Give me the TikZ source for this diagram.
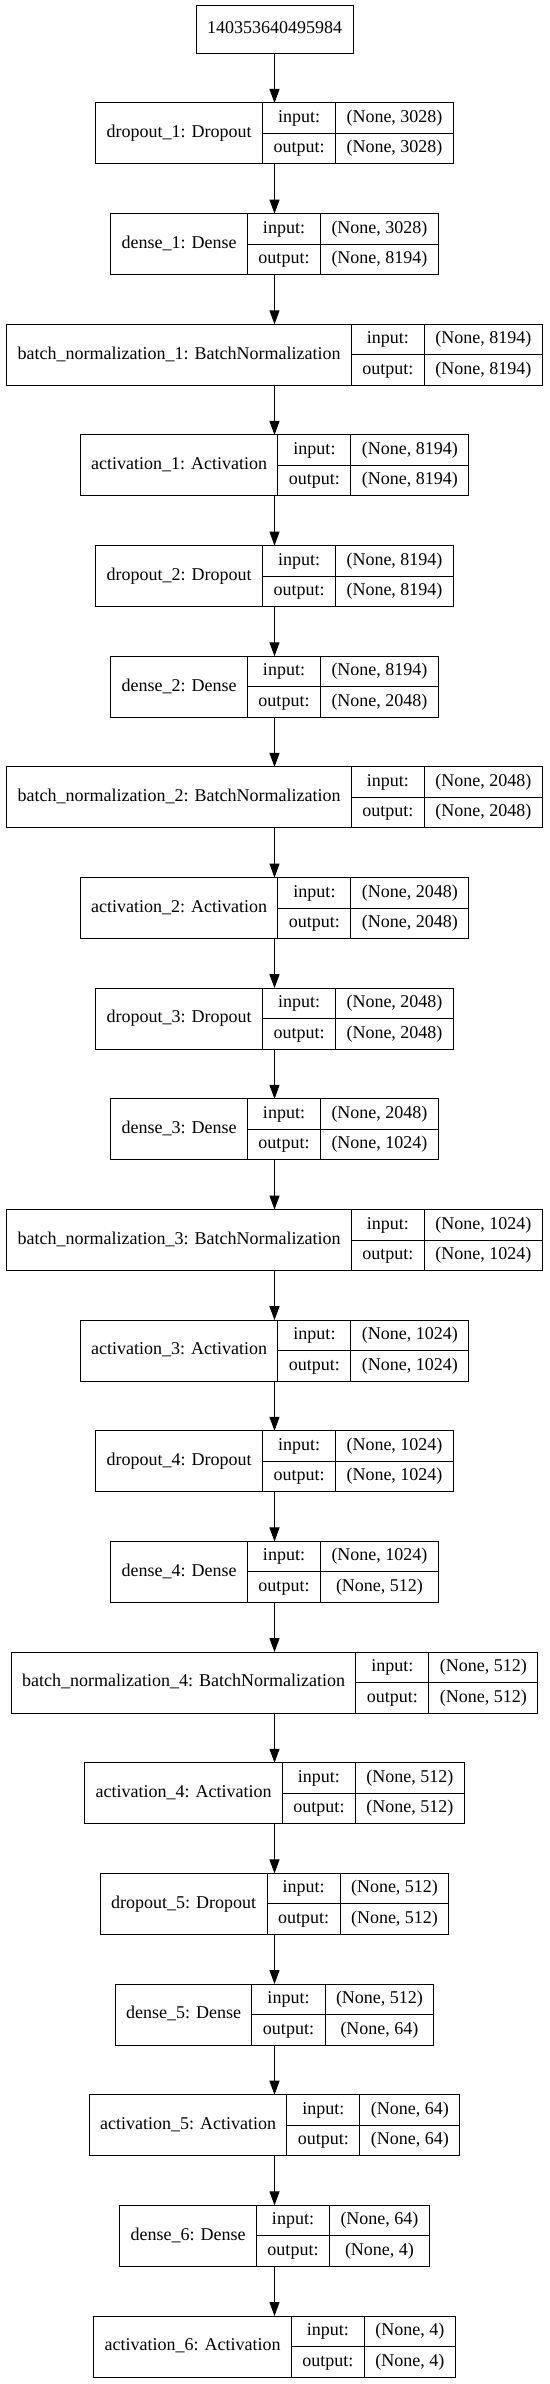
\documentclass[tikz,border=0pt]{standalone}
\usepackage{fontspec}
\setmainfont{Liberation Serif}
\usetikzlibrary{arrows.meta,fit}
\newlength\wA \newlength\wB \newlength\wC \newlength\wT
\newcommand\layerfont{\fontsize{18}{21}\selectfont}
\tikzset{
  cell/.style={draw, line width=1pt, inner sep=0pt, outer sep=0pt, anchor=north west,
    font=\layerfont, text height=12.5pt, text depth=4pt},
  probe/.style={inner sep=0pt, outer sep=0pt, font=\layerfont},
  flow/.style={-{Triangle[length=14pt,width=10pt]}, line width=1pt}
}
\newcommand\drawlayer[5]{%
  \node[probe] (#1m) at (274.5,#2) {%
    \settowidth\wA{#3}\global\wA=\wA
    \settowidth\wB{output:}\global\wB=\wB
    \settowidth\wC{#4}\settowidth\wT{#5}%
    \ifdim\wT>\wC \wC=\wT\fi
    \global\wC=\wC};
  \global\advance\wA by 22pt
  \global\advance\wB by 22pt
  \global\advance\wC by 22pt
  \pgfmathsetmacro\layerx{274.5-0.5*(\wA+\wB+\wC)}%
  \node[cell, minimum width=\wA, minimum height=61pt] (#1n) at (\layerx,#2) {#3};
  \node[cell, minimum width=\wB, minimum height=30.5pt] (#1i) at (#1n.north east) {input:};
  \node[cell, minimum width=\wB, minimum height=30.5pt] (#1o) at (#1i.south west) {output:};
  \node[cell, minimum width=\wC, minimum height=30.5pt] (#1a) at (#1i.north east) {#4};
  \node[cell, minimum width=\wC, minimum height=30.5pt] (#1b) at (#1o.north east) {#5};
  \node[fit=(#1n)(#1b), inner sep=0pt, outer sep=0pt] (#1) {};
}
\begin{document}
\begin{tikzpicture}[x=1pt,y=-1pt]
\useasboundingbox[fill=white] (0,0) rectangle (549,2384);
\node[cell, anchor=north, minimum height=48pt, inner xsep=11pt] (top) at (274.5,5.7) {140353640495984};
\drawlayer{L0}{103}{dropout\_1: Dropout}{(None, 3028)}{(None, 3028)}
\drawlayer{L1}{213.65}{dense\_1: Dense}{(None, 3028)}{(None, 8194)}
\drawlayer{L2}{324.3}{batch\_normalization\_1: BatchNormalization}{(None, 8194)}{(None, 8194)}
\drawlayer{L3}{434.95}{activation\_1: Activation}{(None, 8194)}{(None, 8194)}
\drawlayer{L4}{545.6}{dropout\_2: Dropout}{(None, 8194)}{(None, 8194)}
\drawlayer{L5}{656.25}{dense\_2: Dense}{(None, 8194)}{(None, 2048)}
\drawlayer{L6}{766.9}{batch\_normalization\_2: BatchNormalization}{(None, 2048)}{(None, 2048)}
\drawlayer{L7}{877.55}{activation\_2: Activation}{(None, 2048)}{(None, 2048)}
\drawlayer{L8}{988.2}{dropout\_3: Dropout}{(None, 2048)}{(None, 2048)}
\drawlayer{L9}{1098.85}{dense\_3: Dense}{(None, 2048)}{(None, 1024)}
\drawlayer{L10}{1209.5}{batch\_normalization\_3: BatchNormalization}{(None, 1024)}{(None, 1024)}
\drawlayer{L11}{1320.15}{activation\_3: Activation}{(None, 1024)}{(None, 1024)}
\drawlayer{L12}{1430.8}{dropout\_4: Dropout}{(None, 1024)}{(None, 1024)}
\drawlayer{L13}{1541.45}{dense\_4: Dense}{(None, 1024)}{(None, 512)}
\drawlayer{L14}{1652.1}{batch\_normalization\_4: BatchNormalization}{(None, 512)}{(None, 512)}
\drawlayer{L15}{1762.75}{activation\_4: Activation}{(None, 512)}{(None, 512)}
\drawlayer{L16}{1873.4}{dropout\_5: Dropout}{(None, 512)}{(None, 512)}
\drawlayer{L17}{1984.05}{dense\_5: Dense}{(None, 512)}{(None, 64)}
\drawlayer{L18}{2094.7}{activation\_5: Activation}{(None, 64)}{(None, 64)}
\drawlayer{L19}{2205.35}{dense\_6: Dense}{(None, 64)}{(None, 4)}
\drawlayer{L20}{2316}{activation\_6: Activation}{(None, 4)}{(None, 4)}
\draw[flow] (top) -- (L0);
\foreach \a/\b in {0/1,1/2,2/3,3/4,4/5,5/6,6/7,7/8,8/9,9/10,10/11,11/12,12/13,13/14,14/15,15/16,16/17,17/18,18/19,19/20}
  \draw[flow] (L\a) -- (L\b);
\end{tikzpicture}
\end{document}
